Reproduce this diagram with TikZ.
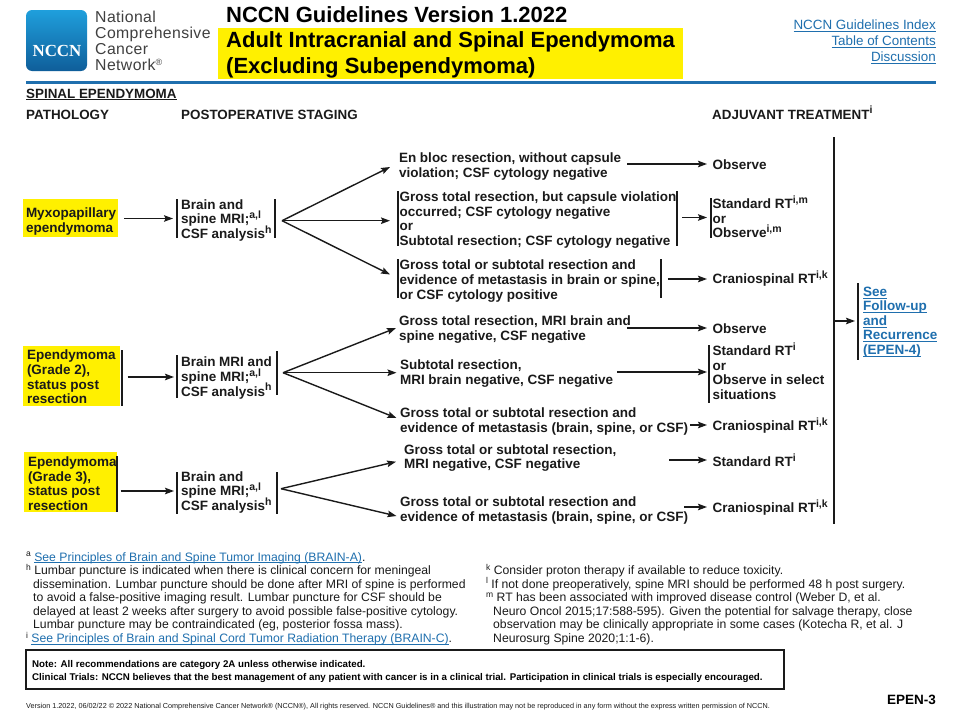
\documentclass[tikz,border=0pt]{standalone}
\usepackage{fontspec}
\setmainfont{Liberation Sans}
\newfontfamily\logoserif{Liberation Serif}
\newfontfamily\logosans[LetterSpace=2.5]{Liberation Sans}
\usetikzlibrary{arrows.meta}
\definecolor{nblue}{HTML}{1F6FAE}
\definecolor{nyellow}{HTML}{FFF000}
\definecolor{ink}{HTML}{1A1A1A}
\definecolor{logotop}{HTML}{1F9FDC}
\definecolor{logobot}{HTML}{0F5E9A}
\newcommand{\bodyfs}{\fontsize{13.5}{14.6}\selectfont\bfseries}
\newcommand{\ftfs}{\fontsize{12.2}{13.55}\selectfont}
\newsavebox{\lnkbox}
\newcommand{\lnk}[1]{\sbox{\lnkbox}{\color{nblue}#1}{\color{nblue}\usebox{\lnkbox}\llap{\rule[-2.1pt]{\wd\lnkbox}{0.7pt}}}}
\newcommand{\blnk}[1]{\sbox{\lnkbox}{\color{nblue}#1}{\color{nblue}\usebox{\lnkbox}\llap{\rule[-2.4pt]{\wd\lnkbox}{0.9pt}}}}
\newcommand{\mk}[1]{\smash{\raisebox{4.2pt}{\fontsize{8.5}{9}\selectfont #1}}}
\newcommand{\bmk}[1]{\smash{\raisebox{5.2pt}{\fontsize{10.5}{11}\selectfont #1}}}
\tikzset{
  txt/.style={anchor=west,inner sep=0pt,outer sep=0pt,align=left,text=ink,font=\bodyfs},
  hdr/.style={anchor=west,inner sep=0pt,align=left,text=ink,font=\fontsize{13.4}{14}\selectfont\bfseries},
  fnote/.style={anchor=north west,inner sep=0pt,align=left,text=ink,font=\ftfs},
  toplink/.style={anchor=east,inner sep=0pt,font=\fontsize{13.4}{14}\selectfont},
  ttl/.style={anchor=west,inner sep=0pt,text=black,font=\fontsize{22}{26}\selectfont\bfseries},
  arr/.style={draw=ink,line width=1.2pt,-{Stealth[length=9pt,width=6.5pt,inset=1.5pt]}},
  fan/.style={draw=ink,line width=1.4pt,-{Stealth[length=9pt,width=6.5pt,inset=1.5pt]}},
  barline/.style={draw=ink,line width=1.2pt},
  yel/.style={fill=nyellow,draw=none},
}
\begin{document}
\begin{tikzpicture}[x=1pt,y=-1pt]
\useasboundingbox (0,0) rectangle (965,720);
\fill[white] (0,0) rectangle (965,720);
% logo
\shade[top color=logotop,bottom color=logobot,rounded corners=6pt] (26,10) rectangle (87,71);
\node[inner sep=0pt,text=white,font=\logoserif\fontsize{16.9}{17}\selectfont\bfseries] (logoname) at (57,50.5) {NCCN};
\node[anchor=north west,inner sep=0pt,align=left,text=black!75,font=\logosans\fontsize{15.8}{16}\selectfont] (logotext) at (95,10.5) {National\\Comprehensive\\Cancer\\Network\smash{\raisebox{5pt}{\fontsize{9}{9}\selectfont ®}}};
% title
\fill[yel] (218,28) rectangle (683,79);
\node[ttl] (title) at (226,14.5) {NCCN Guidelines Version 1.2022};
\node[ttl] (titleb) at (226,42) {Adult Intracranial and Spinal Ependymoma};
\node[ttl] (titlec) at (226,68) {(Excluding Subependymoma)};
\node[toplink] (l1) at (936,25.5) {\lnk{NCCN Guidelines Index}};
\node[toplink] (l2) at (936,42) {\lnk{Table of Contents}};
\node[toplink] (l3) at (936,58) {\lnk{Discussion}};
\draw[nblue,line width=2.4pt] (26,82.5) -- (936,82.5);
\node[hdr] (h0) at (26,94.5) {\underline{SPINAL EPENDYMOMA}};
\node[hdr] (h1) at (26,114.5) {PATHOLOGY};
\node[hdr] (h2) at (181,114.5) {POSTOPERATIVE STAGING};
\node[hdr] (h3) at (712,114.5) {ADJUVANT TREATMENT\bmk{i}};
% pathology
\fill[yel] (23,199) rectangle (118,237);
\node[txt] (p1) at (26,221.5) {Myxopapillary\\ependymoma};
\fill[yel] (23,346) rectangle (120,406);
\node[txt] (p2) at (27,377) {Ependymoma\\(Grade 2),\\status post\\resection};
\draw[barline] (122,350) -- (122,406);
\fill[yel] (24,452) rectangle (117,512);
\node[txt] (p3) at (28,483.5) {Ependymoma\\(Grade 3),\\status post\\resection};
\draw[barline] (117,456) -- (117,512);
% staging
\node[txt] (s1) at (181,220.5) {Brain and\\spine MRI;\bmk{a,l}\\CSF analysis\bmk{h}};
\node[txt] (s2) at (181,378) {Brain MRI and\\spine MRI;\bmk{a,l}\\CSF analysis\bmk{h}};
\node[txt] (s3) at (181,492.5) {Brain and\\spine MRI;\bmk{a,l}\\CSF analysis\bmk{h}};
\draw[barline] (177,199) -- (177,238); \draw[barline] (275,199) -- (275,238);
\draw[barline] (177,355) -- (177,398); \draw[barline] (277,351) -- (277,395);
\draw[barline] (177,472) -- (177,514); \draw[barline] (277,472) -- (277,514);
\coordinate (hub1) at (282,220.7);
\coordinate (hub2) at (283,372.7);
\coordinate (hub3) at (281,488.7);
% surgery outcomes
\node[txt] (t1) at (399,166.5) {En bloc resection, without capsule\\violation; CSF cytology negative};
\node[txt] (t2) at (399.5,220) {Gross total resection, but capsule violation\\occurred; CSF cytology negative\\or\\Subtotal resection; CSF cytology negative};
\node[txt] (t3) at (399.5,281) {Gross total or subtotal resection and\\evidence of metastasis in brain or spine,\\or CSF cytology positive};
\node[txt] (t4) at (399,329.5) {Gross total resection, MRI brain and\\spine negative, CSF negative};
\node[txt] (t5) at (400,373.5) {Subtotal resection,\\MRI brain negative, CSF negative};
\node[txt] (t6) at (400,421.5) {Gross total or subtotal resection and\\evidence of metastasis (brain, spine, or CSF)};
\node[txt] (t7) at (404,458) {Gross total or subtotal resection,\\MRI negative, CSF negative};
\node[txt] (t8) at (400,510.5) {Gross total or subtotal resection and\\evidence of metastasis (brain, spine, or CSF)};
\draw[barline] (398,191) -- (398,246);
\draw[barline] (677,191) -- (677,246);
\draw[barline] (398,259) -- (398,298);
\draw[barline] (661,259) -- (661,298);
% treatments
\node[txt] (o1) at (712.5,164.5) {Observe};
\node[txt] (o2) at (712.5,218.5) {Standard RT\bmk{i,m}\\or\\Observe\bmk{i,m}};
\node[txt] (o3) at (712.5,280) {Craniospinal RT\bmk{i,k}};
\node[txt] (o4) at (712.5,328.5) {Observe};
\node[txt] (o5) at (712.5,372.5) {Standard RT\bmk{i}\\or\\Observe in select\\situations};
\node[txt] (o6) at (712.5,427) {Craniospinal RT\bmk{i,k}};
\node[txt] (o7) at (712.5,462) {Standard RT\bmk{i}};
\node[txt] (o8) at (712.5,509) {Craniospinal RT\bmk{i,k}};
\draw[barline] (711,198) -- (711,238);
\draw[barline] (709,345) -- (709,403);
% follow-up
\coordinate (trunktop) at (834,137);
\coordinate (trunkbot) at (834,524);
\draw[draw=ink,line width=1.3pt] (trunktop) -- (trunkbot);
\node[txt,text=nblue] (f) at (863,322) {\blnk{See}\\\blnk{Follow-up}\\\blnk{and}\\\blnk{Recurrence}\\\blnk{(EPEN-4)}};
\draw[barline] (858,283) -- (858,360);
\coordinate (trunkmid) at (834,321);
\draw[arr,shorten >=8pt] (trunkmid) -- (trunkmid -| f.west);
% connectors
\draw[arr,shorten >=8pt] ([xshift=8pt]p1.east |- 0,218.5) -- (s1.west |- 0,218.5);
\draw[arr,shorten >=7pt] ([xshift=12pt]p2.east |- 0,377) -- (s2.west |- 0,377);
\draw[arr,shorten >=7pt] ([xshift=4pt]p3.east |- 0,491) -- (s3.west |- 0,491);
\foreach \h/\t/\dx/\yy in {hub1/t1/-9/167,hub1/t2/-9.5/220.7,hub1/t3/-9.5/274.5,hub2/t4/-3/328,hub2/t5/-3.5/372.7,hub2/t6/-3.5/418,hub3/t7/-8/461.7,hub3/t8/-3.5/516}
  \draw[fan] (\h) -- ([xshift=\dx pt]\t.west |- 0,\yy);
\foreach \t/\o/\dx/\yy in {t1/o1/6/164,t2/o2/6/217.5,t3/o3/8/279,t4/o4/-4/328,t5/o5/4/372,t6/o6/2/425,t7/o7/53/460,t8/o8/-4/507}
  \draw[arr,shorten >=5.5pt] ([xshift=\dx pt]\t.east |- 0,\yy) -- (\o.west |- 0,\yy);
% footnotes
\node[fnote] (fa) at (26,552) {\mk{a} \lnk{See Principles of Brain and Spine Tumor Imaging (BRAIN-A)}.\\
\mk{h} Lumbar puncture is indicated when there is clinical concern for meningeal\\
\hspace*{7pt}dissemination. Lumbar puncture should be done after MRI of spine is performed\\
\hspace*{7pt}to avoid a false-positive imaging result. Lumbar puncture for CSF should be\\
\hspace*{7pt}delayed at least 2 weeks after surgery to avoid possible false-positive cytology.\\
\hspace*{7pt}Lumbar puncture may be contraindicated (eg, posterior fossa mass).\\
\mk{i} \lnk{See Principles of Brain and Spinal Cord Tumor Radiation Therapy (BRAIN-C)}.};
\node[fnote] (fk) at (486,565.5) {\mk{k} Consider proton therapy if available to reduce toxicity.\\
\mk{l} If not done preoperatively, spine MRI should be performed 48 h post surgery.\\
\mk{m} RT has been associated with improved disease control (Weber D, et al.\\
\hspace*{7pt}Neuro Oncol 2015;17:588-595). Given the potential for salvage therapy, close\\
\hspace*{7pt}observation may be clinically appropriate in some cases (Kotecha R, et al. J\\
\hspace*{7pt}Neurosurg Spine 2020;1:1-6).};
% note box
\draw[draw=ink,line width=1.4pt] (26,650) rectangle (784,689);
\node[anchor=west,inner sep=0pt,align=left,text=black,font=\fontsize{9.74}{12.1}\selectfont\bfseries] (note) at (32,671.5) {Note: All recommendations are category 2A unless otherwise indicated.\\Clinical Trials: NCCN believes that the best management of any patient with cancer is in a clinical trial. Participation in clinical trials is especially encouraged.};
\node[anchor=west,inner sep=0pt,text=ink,font=\fontsize{7.25}{8}\selectfont] (foot) at (26,707) {Version 1.2022, 06/02/22 © 2022 National Comprehensive Cancer Network® (NCCN®), All rights reserved. NCCN Guidelines® and this illustration may not be reproduced in any form without the express written permission of NCCN.};
\node[anchor=east,inner sep=0pt,text=black,font=\fontsize{13.5}{14}\selectfont\bfseries] (code) at (936,700) {EPEN-3};
\end{tikzpicture}
\end{document}
